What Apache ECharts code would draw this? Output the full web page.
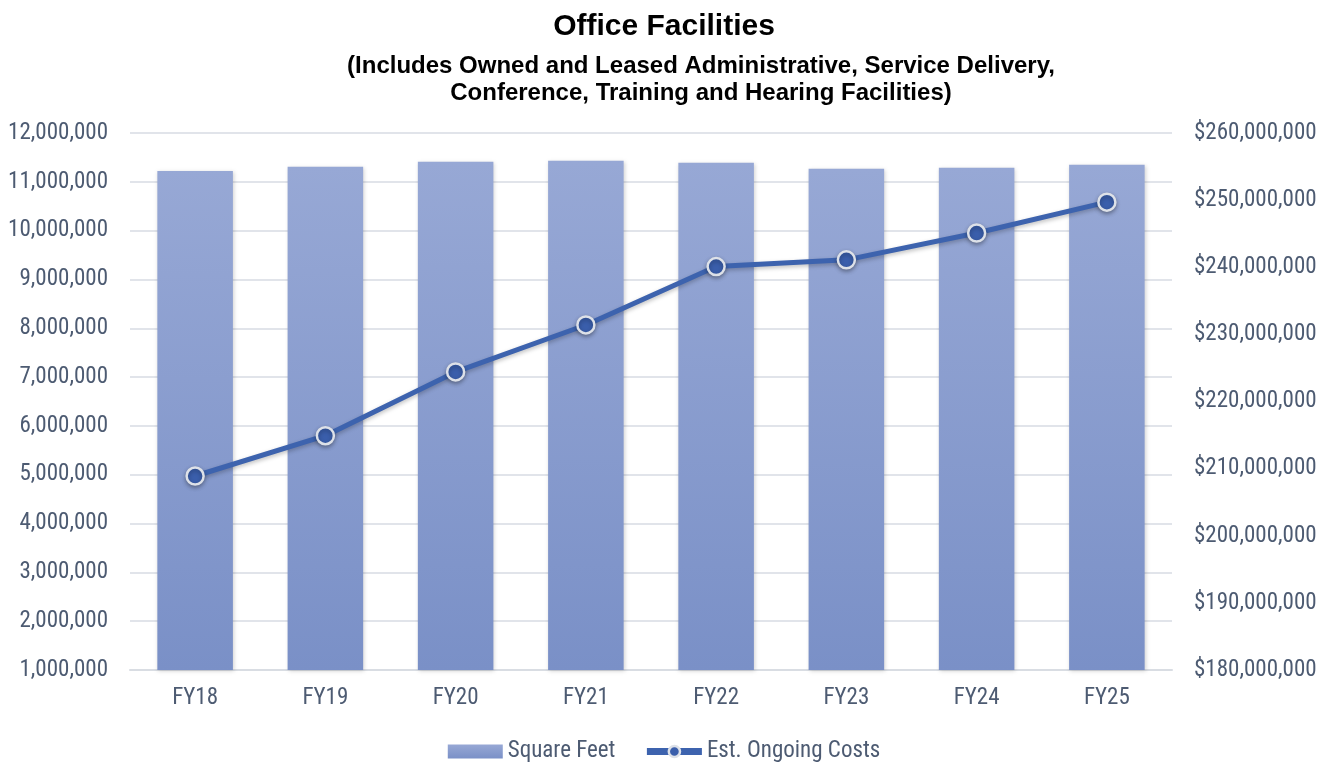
<!DOCTYPE html>
<html><head><meta charset="utf-8">
<script src="https://cdn.jsdelivr.net/npm/echarts@6/dist/echarts.min.js"></script>
<style>html,body{margin:0;padding:0;background:#fff}#c{width:1328px;height:765px}</style>
</head><body><div id="c"></div>
<script>
const categories = ['FY18','FY19','FY20','FY21','FY22','FY23','FY24','FY25'];
const squareFeet = [11220000, 11310000, 11410000, 11430000, 11390000, 11270000, 11290000, 11350000];
const ongoingCosts = [208900000, 214900000, 224400000, 231400000, 240100000, 241100000, 245100000, 249700000];
const subtitleLines = ['(Includes Owned and Leased Administrative, Service Delivery,', 'Conference, Training and Hearing Facilities)'];
const labelFont = "'Roboto Condensed','Arial Narrow',sans-serif";
const titleFont = "'Liberation Sans',Arial,sans-serif";
const labelColor = '#4D5B72';
const chart = echarts.init(document.getElementById('c'));
chart.setOption({
  animation: false,
  title: [{
    text: 'Office Facilities', left: 'center', top: 7,
    textStyle: {fontFamily: titleFont, fontSize: 30, fontWeight: 'bold', color: '#000'}
  }, {
    text: subtitleLines[0], left: 696, top: 49, textAlign: 'center',
    textStyle: {fontFamily: titleFont, fontSize: 24, fontWeight: 'bold', color: '#000'}
  }, {
    text: subtitleLines[1], left: 696, top: 76, textAlign: 'center',
    textStyle: {fontFamily: titleFont, fontSize: 24, fontWeight: 'bold', color: '#000'}
  }],
  legend: {
    top: 740, left: 'center', itemGap: 28, itemWidth: 55, itemHeight: 14, padding: 0,
    textStyle: {fontFamily: labelFont, fontSize: 23, color: labelColor},
    data: [{name: 'Square Feet', icon: 'rect'},
           {name: 'Est. Ongoing Costs', lineStyle: {width: 7}, itemStyle: {borderWidth: 2.5}}]
  },
  grid: {left: 130, right: 156, top: 133, bottom: 95, containLabel: false, outerBoundsMode: 'none'},
  xAxis: {
    type: 'category', data: categories,
    axisLine: {show: true, lineStyle: {color: '#D9DDE3', width: 2}},
    axisTick: {show: false},
    axisLabel: {fontFamily: labelFont, fontSize: 23, color: labelColor, margin: 17}
  },
  yAxis: [{
    type: 'value', min: 1000000, max: 12000000, interval: 1000000,
    axisLine: {show: false}, axisTick: {show: false},
    splitLine: {lineStyle: {color: '#E1E4EA', width: 2}},
    axisLabel: {fontFamily: labelFont, fontSize: 23, color: labelColor, margin: 22,
      formatter: v => v.toLocaleString('en-US')}
  }, {
    type: 'value', min: 180000000, max: 260000000, interval: 10000000,
    axisLine: {show: false}, axisTick: {show: false}, splitLine: {show: false},
    axisLabel: {fontFamily: labelFont, fontSize: 23, color: labelColor, margin: 22,
      formatter: v => '$' + v.toLocaleString('en-US')}
  }],
  series: [{
    name: 'Square Feet', type: 'bar', data: squareFeet, barWidth: '58%',
    itemStyle: {
      color: new echarts.graphic.LinearGradient(0, 0, 0, 1, [
        {offset: 0, color: '#97A8D5'}, {offset: 1, color: '#7A90C7'}]),
      shadowColor: 'rgba(0,0,0,0.18)', shadowBlur: 4, shadowOffsetX: 1, shadowOffsetY: 1
    }
  }, {
    name: 'Est. Ongoing Costs', type: 'line', yAxisIndex: 1, data: ongoingCosts,
    symbol: 'circle', symbolSize: 17,
    lineStyle: {color: '#3D63AE', width: 5, shadowColor: 'rgba(0,0,0,0.25)', shadowBlur: 4, shadowOffsetY: 2},
    itemStyle: {color: '#3A5EAB', borderColor: '#DDE1E8', borderWidth: 2.5,
      shadowColor: 'rgba(0,0,0,0.3)', shadowBlur: 4, shadowOffsetY: 2}
  }]
});
</script></body></html>
